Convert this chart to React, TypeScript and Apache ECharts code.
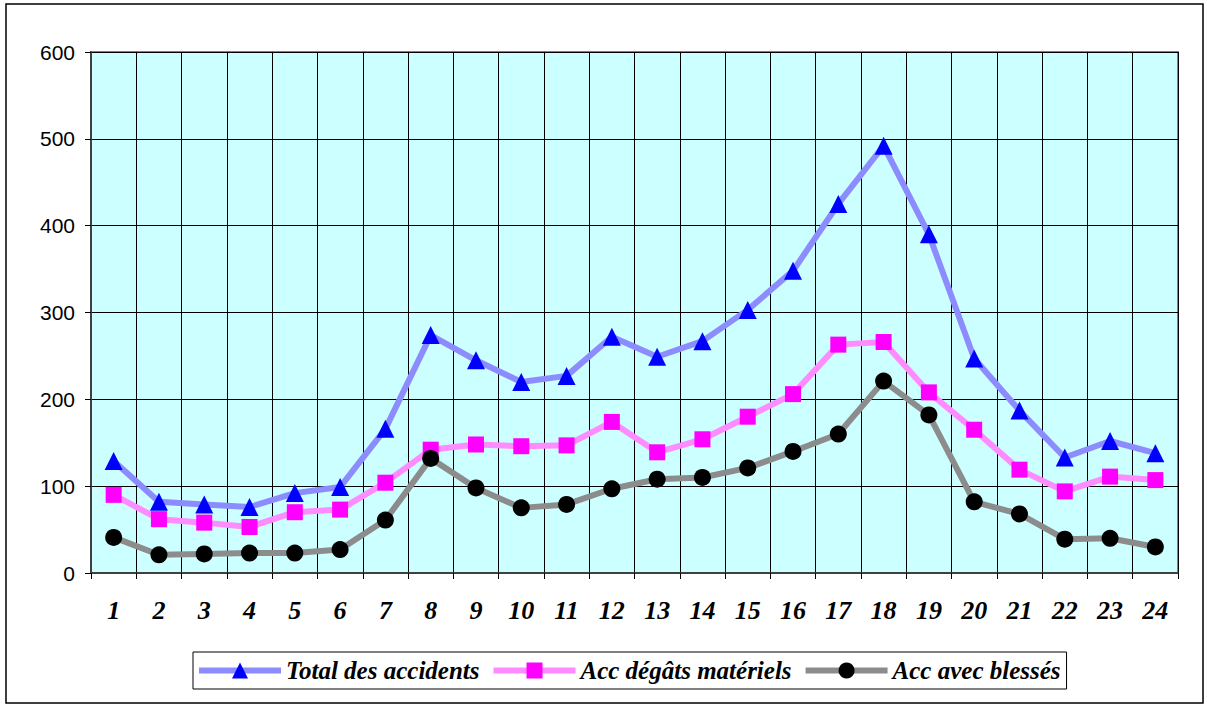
import React, { useEffect, useRef } from "react";
import * as echarts from "echarts";

const hours = ["1","2","3","4","5","6","7","8","9","10","11","12","13","14","15","16","17","18","19","20","21","22","23","24"];
const totalAcc = [129, 82, 79, 76, 92, 99, 166, 274, 245, 220, 227, 272, 249, 267, 303, 348, 425, 492, 390, 247, 187, 133, 152, 138];
const degatsMat = [90, 62, 58, 53, 70, 73, 104, 142, 148, 146, 147, 174, 139, 154, 180, 206, 263, 266, 208, 165, 119, 94, 111, 107];
const avecBlesses = [41, 21, 22, 23, 23, 27, 61, 132, 98, 75, 79, 97, 108, 110, 121, 140, 160, 221, 182, 82, 68, 39, 40, 30];
const yTicks = { min: 0, max: 600, interval: 100 };

export default function App() {
  const ref = useRef<HTMLDivElement>(null);
  useEffect(() => {
    document.body.style.margin = "0";
    const chart = echarts.init(ref.current!, null, { renderer: "svg" });
    const serif = "Liberation Serif";
    const mk = (name: string, data: number[], lineColor: string, symColor: string, symbol: string, size: number) => ({
      name,
      type: "line",
      data,
      symbol,
      symbolSize: size,
      lineStyle: { color: lineColor, width: 6 },
      itemStyle: { color: symColor, borderWidth: 0 },
      emphasis: { disabled: true },
      z: 3,
    });
    chart.setOption({
      animation: false,
      backgroundColor: "#ffffff",
      graphic: [
        { type: "rect", shape: { x: 6, y: 4, width: 1197, height: 699 }, style: { fill: "none", stroke: "#000", lineWidth: 1.5 }, silent: true },
      ],
      grid: {
        left: 91, top: 52, width: 1087, height: 521,
        show: true, backgroundColor: "#CCFFFF", borderColor: "#808080", borderWidth: 2,
      },
      legend: {
        left: 193, top: 652,
        padding: [6, 6, 6, 3],
        itemGap: 11,
        itemWidth: 82, itemHeight: 20,
        borderColor: "#000", borderWidth: 1,
        lineStyle: { width: 6 },
        textStyle: { fontFamily: serif, fontSize: 25, fontWeight: "bold", fontStyle: "italic", color: "#000" },
        data: ["Total des accidents", "Acc dégâts matériels", "Acc avec blessés"],
      },
      xAxis: {
        type: "category",
        data: hours,
        boundaryGap: true,
        axisLine: { lineStyle: { color: "#404040", width: 2 } },
        axisTick: { show: true, length: 6, lineStyle: { color: "#000" } },
        axisLabel: { margin: 24, fontFamily: serif, fontSize: 26, fontWeight: "bold", fontStyle: "italic", color: "#000" },
        splitLine: { show: true, interval: 0, lineStyle: { color: "#000", width: 1 } },
      },
      yAxis: {
        type: "value",
        min: yTicks.min, max: yTicks.max, interval: yTicks.interval,
        axisLine: { show: true, lineStyle: { color: "#404040", width: 2 } },
        axisTick: { show: true, length: 6, lineStyle: { color: "#000" } },
        axisLabel: { margin: 16, fontFamily: "Liberation Sans", fontSize: 21, color: "#000" },
        splitLine: { show: true, lineStyle: { color: "#000", width: 1 } },
      },
      series: [
        mk("Total des accidents", totalAcc, "#8c8cff", "#0000ff", "triangle", 18),
        mk("Acc dégâts matériels", degatsMat, "#ff8cff", "#ff00ff", "rect", 16),
        mk("Acc avec blessés", avecBlesses, "#8c8c8c", "#000000", "circle", 17),
      ],
    });
    return () => chart.dispose();
  }, []);
  return <div ref={ref} style={{ width: 1207, height: 704 }} />;
}
